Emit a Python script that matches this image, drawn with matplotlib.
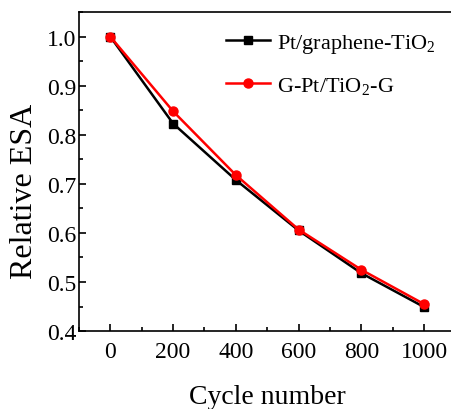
import matplotlib
matplotlib.use('Agg')
import matplotlib.pyplot as plt
from matplotlib.ticker import MultipleLocator

cycles = [0, 200, 400, 600, 800, 1000]
pt_graphene = [1.0, 0.823, 0.708, 0.605, 0.518, 0.449]
g_pt_tio2 = [1.0, 0.848, 0.718, 0.607, 0.525, 0.455]

plt.rcParams['font.family'] = ['Liberation Serif', 'DejaVu Serif']
plt.rcParams['mathtext.fontset'] = 'custom'
plt.rcParams['mathtext.rm'] = 'Liberation Serif'

fig = plt.figure(figsize=(4.51, 4.10), dpi=100)
ax = fig.add_axes([0.175, 0.19, 0.835, 0.778])

ax.plot(cycles, pt_graphene, color='black', marker='s', markersize=5.5, lw=1.8,
        label=r'Pt/graphene-TiO$_2$')
ax.plot(cycles, g_pt_tio2, color='red', marker='o', markersize=6.5, lw=1.8,
        label=r'G-Pt/TiO$_2$-G')

ax.set_xlim(-100, 1100)
ax.set_ylim(0.4, 1.05)
ax.set_xticks(cycles)
ax.xaxis.set_minor_locator(MultipleLocator(100))
ax.yaxis.set_major_locator(MultipleLocator(0.1))
ax.yaxis.set_minor_locator(MultipleLocator(0.05))
ax.tick_params(which='both', direction='in', top=False, right=False, labelsize=17, width=1.2)
ax.tick_params(which='major', length=5)
ax.tick_params(which='minor', length=3)
ax.tick_params(axis='y', pad=2)
ax.tick_params(axis='x', pad=7)
for s in ax.spines.values():
    s.set_linewidth(1.2)

ax.set_xlabel('Cycle number', fontsize=20, labelpad=16)
ax.set_ylabel('Relative ESA', fontsize=23)
ax.yaxis.set_label_coords(-0.107, 0.44)

ax.legend(loc='upper right', frameon=False, fontsize=16, handlelength=2.0,
          handletextpad=0.3, labelspacing=0.9, bbox_to_anchor=(1.0, 1.0))

fig.savefig('out.png', dpi=100)
